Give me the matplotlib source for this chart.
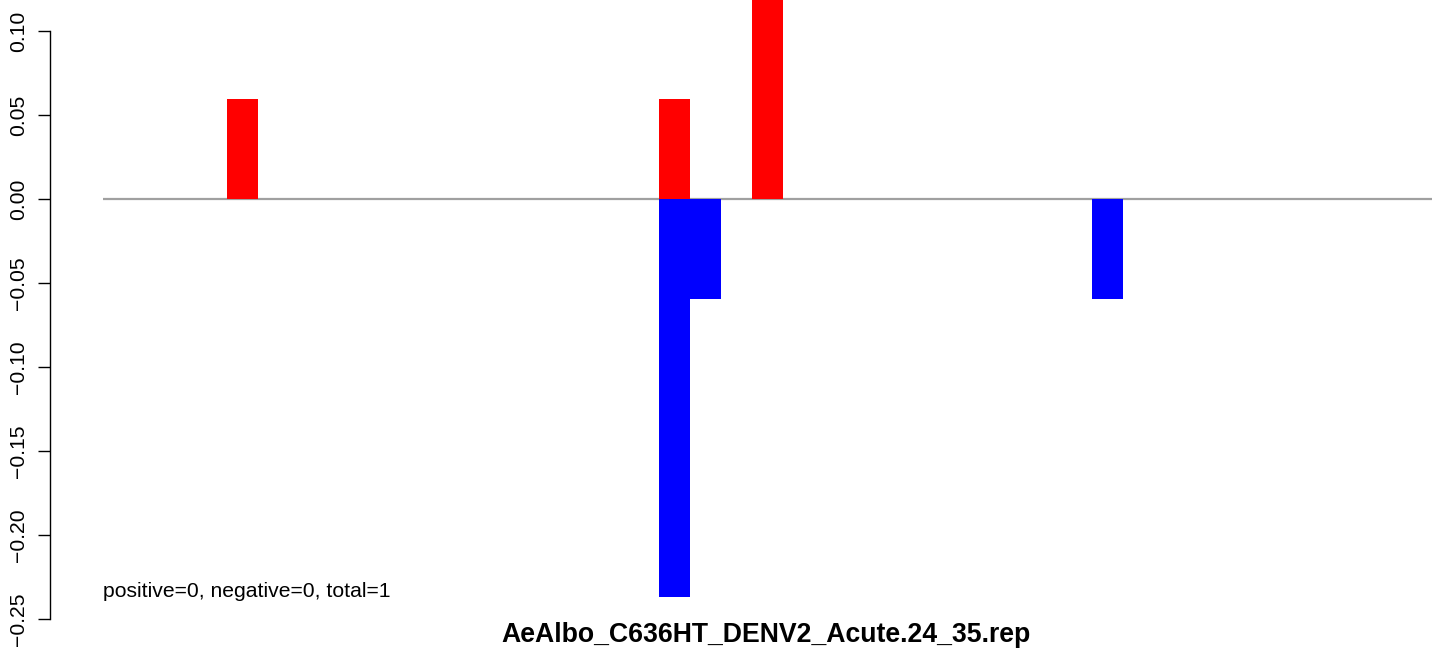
import matplotlib
matplotlib.use("Agg")
import matplotlib.pyplot as plt
import numpy as np

plt.rcParams['font.family'] = ['Liberation Sans', 'DejaVu Sans']

n_bins = 43
pos_idx = [4, 18, 21]
pos_vals = [0.0595, 0.0595, 0.13]
neg_idx = [18, 19, 32]
neg_vals = [-0.237, -0.0593, -0.0593]
yticks = [-0.25, -0.20, -0.15, -0.10, -0.05, 0.00, 0.05, 0.10]
ytick_labels = ["\u22120.25", "\u22120.20", "\u22120.15", "\u22120.10", "\u22120.05", "0.00", "0.05", "0.10"]
stats_text = "positive=0, negative=0, total=1"
title_text = "AeAlbo_C636HT_DENV2_Acute.24_35.rep"

W, H = 1444, 650
fig = plt.figure(figsize=(W / 100, H / 100), dpi=100)

# axes geometry in pixels
ax_left, ax_right = 50, 1444
ax_top, ax_bottom = 0, 622
ax = fig.add_axes([ax_left / W, 1 - ax_bottom / H, (ax_right - ax_left) / W, (ax_bottom - ax_top) / H])

px_per_bin = 30.9
x0_px = 103.3
xmin = (ax_left - x0_px) / px_per_bin
xmax = (ax_right - x0_px) / px_per_bin
ax.set_xlim(xmin, xmax)

px_per_unit = 1680.0
zero_px = 199
ymax = (zero_px - ax_top) / px_per_unit
ymin = (zero_px - ax_bottom) / px_per_unit
ax.set_ylim(ymin, ymax)

ax.hlines(0, 0, n_bins, color='#A0A0A0', linewidth=1.6, zorder=1)
ax.bar(pos_idx, pos_vals, width=1.0, align='edge', color='#FF0000', linewidth=0, zorder=2)
ax.bar(neg_idx, neg_vals, width=1.0, align='edge', color='#0000FF', linewidth=0, zorder=2)

for s in ['top', 'right', 'bottom']:
    ax.spines[s].set_visible(False)
ax.spines['left'].set_bounds(-0.25, 0.10)
ax.spines['left'].set_linewidth(1.0)
ax.set_xticks([])
ax.set_yticks(yticks)
ax.set_yticklabels(ytick_labels, rotation=90, va='center', fontsize=15.2)
ax.tick_params(axis='y', length=9, width=1.0, pad=7)

ax.text(0, -0.2335, stats_text, fontsize=15.2, ha='left', va='center')

fig.text(766 / W, 1 - 635 / H, title_text, fontsize=19.2, fontweight='bold', ha='center', va='center')

fig.savefig("out.png", dpi=100)
